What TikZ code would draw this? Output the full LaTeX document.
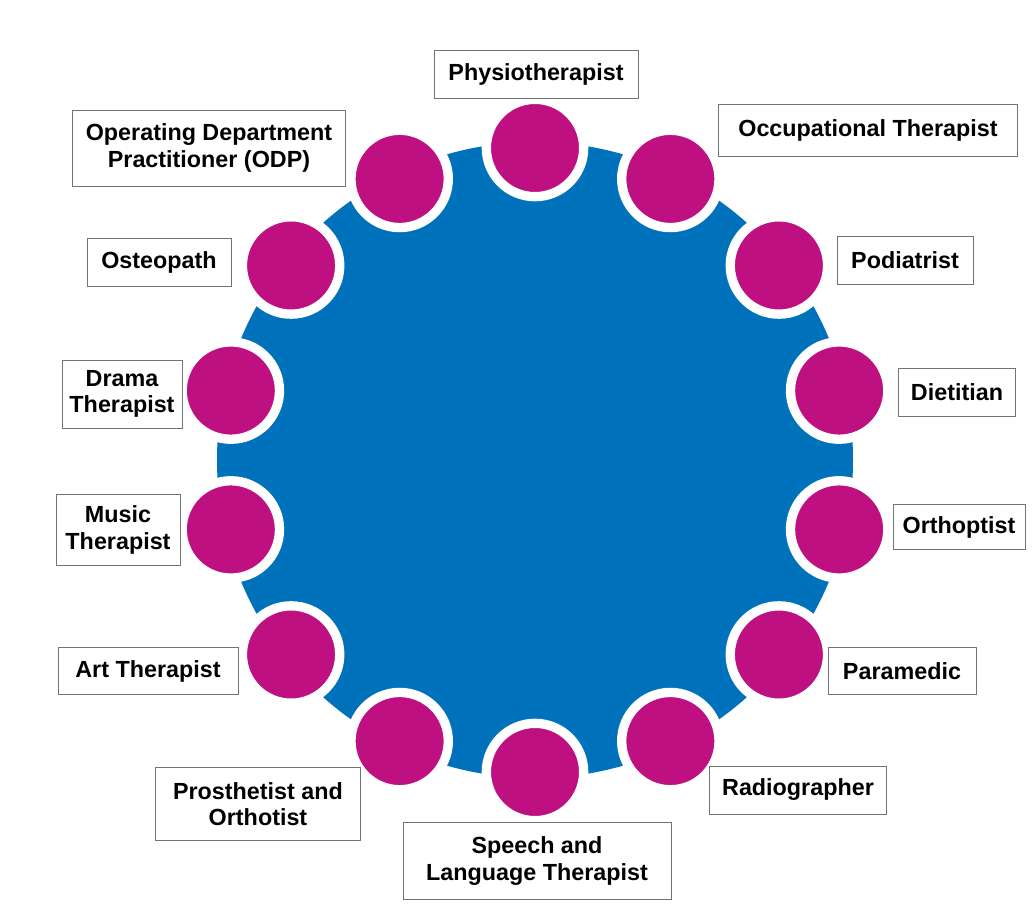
\documentclass[tikz,border=0pt]{standalone}
\usepackage{fontspec}
\setmainfont{Liberation Sans}
\begin{document}
\begin{tikzpicture}[x=0.75pt,y=-0.75pt,
  lbl/.style={draw=black!55,line width=0.6pt,fill=white,font=\fontsize{17.5}{20}\selectfont\bfseries,align=center,inner sep=0pt,minimum height=36pt},
  mag/.style={circle,draw=white,line width=7pt,minimum size=73pt,inner sep=0pt}]
\useasboundingbox (0,0) rectangle (1033,905);
\fill[white] (0,0) rectangle (1033,905);
\definecolor{blu}{RGB}{0,114,188}
\definecolor{mg}{RGB}{190,16,128}
\tikzset{mag/.append style={fill=mg}}
\node[circle,fill=blu,minimum size=477pt,inner sep=0pt] (hub) at (535,460) {};
\foreach \i in {0,...,13}{
  \node[mag] (c\i) at ({535+312*cos(90-\i*360/14)},{460-312*sin(90-\i*360/14)}) {};
}
\node[lbl,minimum width=153pt] (l0) at (536,74) {Physiotherapist};
\node[lbl,minimum width=224pt,minimum height=39pt] (l1) at (868,130) {Occupational Therapist};
\node[lbl,minimum width=102pt] (l2) at (905,260) {Podiatrist};
\node[lbl,minimum width=88pt] (l3) at (957,392) {Dietitian};
\node[lbl,minimum width=99pt,minimum height=34pt] (l4) at (959,527) {Orthoptist};
\node[lbl,minimum width=111pt,minimum height=35pt] (l5) at (902,671) {Paramedic};
\node[lbl,minimum width=133pt] (l6) at (798,790) {Radiographer};
\node[lbl,minimum width=201pt,minimum height=58pt] (l7) at (537,861) {Speech and\\Language Therapist};
\node[lbl,minimum width=154pt,minimum height=55pt] (l8) at (258,804) {Prosthetist and\\Orthotist};
\node[lbl,minimum width=135pt,minimum height=35pt] (l9) at (148,671) {Art Therapist};
\node[lbl,minimum width=93pt,minimum height=53pt] (l10) at (118,530) {Music\\Therapist};
\node[lbl,minimum width=90pt,minimum height=51pt] (l11) at (122,394) {Drama\\Therapist};
\node[lbl,minimum width=108pt] (l12) at (159,262) {Osteopath};
\node[lbl,minimum width=205pt,minimum height=57pt] (l13) at (209,148) {Operating Department\\Practitioner (ODP)};
\end{tikzpicture}
\end{document}
